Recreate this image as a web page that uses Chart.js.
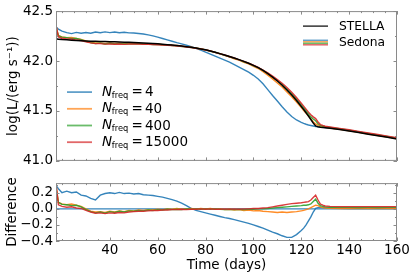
<!DOCTYPE html>
<html><head><meta charset="utf-8">
<script src="https://cdn.jsdelivr.net/npm/chart.js@4.4.1/dist/chart.umd.min.js"></script>
<style>
html,body{margin:0;padding:0;background:#fff;}
#wrap{position:relative;width:415px;height:277px;overflow:hidden;}
#c1{position:absolute;left:0;top:0;}
#c2{position:absolute;left:0;top:172px;}
</style></head><body>
<div id="wrap"><canvas id="c1" width="415" height="172"></canvas><canvas id="c2" width="415" height="105"></canvas></div>
<script>
// ---------------- data ----------------
const days = [17.5, 18.5, 20, 22, 24, 26, 28, 30, 32, 34,
  36, 38, 40, 42, 44, 46, 48, 50, 52, 54,
  56, 58, 60, 62, 64, 66, 68, 70, 72, 74,
  76, 78, 80, 82, 84, 86, 88, 90, 92, 94,
  96, 98, 100, 102, 104, 106, 108, 110, 112, 114,
  116, 118, 120, 121, 122, 123, 124, 125, 126, 127,
  128, 129, 130, 132, 136, 140, 144, 148, 152, 156,
  160];

const stella = [42.222, 42.219, 42.215, 42.212, 42.209, 42.206, 42.203, 42.201, 42.199, 42.198,
  42.196, 42.195, 42.193, 42.192, 42.190, 42.189, 42.187, 42.186, 42.184, 42.181,
  42.178, 42.175, 42.172, 42.168, 42.164, 42.160, 42.155, 42.150, 42.144, 42.137,
  42.130, 42.121, 42.112, 42.100, 42.088, 42.074, 42.060, 42.045, 42.030, 42.014,
  41.997, 41.978, 41.957, 41.934, 41.906, 41.874, 41.838, 41.800, 41.757, 41.710,
  41.659, 41.604, 41.545, 41.514, 41.482, 41.449, 41.415, 41.380, 41.350, 41.342,
  41.338, 41.335, 41.332, 41.327, 41.314, 41.300, 41.284, 41.268, 41.252, 41.236,
  41.220];

const sedona4 = [42.340, 42.320, 42.300, 42.285, 42.275, 42.287, 42.279, 42.286, 42.278, 42.291,
  42.283, 42.292, 42.285, 42.291, 42.284, 42.288, 42.282, 42.281, 42.276, 42.271,
  42.262, 42.252, 42.240, 42.226, 42.212, 42.198, 42.184, 42.172, 42.158, 42.143,
  42.127, 42.110, 42.090, 42.070, 42.050, 42.030, 42.010, 41.990, 41.965, 41.940,
  41.915, 41.888, 41.857, 41.820, 41.772, 41.714, 41.655, 41.600, 41.542, 41.490,
  41.445, 41.410, 41.386, 41.376, 41.367, 41.360, 41.355, 41.350, 41.345, 41.342,
  41.340, 41.338, 41.335, 41.330, 41.318, 41.304, 41.289, 41.273, 41.257, 41.241,
  41.225];

const sedona40 = [42.352, 42.254, 42.241, 42.234, 42.235, 42.226, 42.216, 42.201, 42.186, 42.181,
  42.181, 42.175, 42.180, 42.175, 42.179, 42.174, 42.178, 42.175, 42.177, 42.172,
  42.174, 42.168, 42.170, 42.164, 42.164, 42.158, 42.157, 42.148, 42.144, 42.139,
  42.128, 42.123, 42.112, 42.102, 42.086, 42.074, 42.056, 42.043, 42.023, 42.010,
  41.988, 41.971, 41.946, 41.925, 41.893, 41.859, 41.821, 41.780, 41.740, 41.690,
  41.642, 41.589, 41.534, 41.505, 41.478, 41.449, 41.422, 41.393, 41.370, 41.359,
  41.349, 41.342, 41.336, 41.330, 41.316, 41.302, 41.286, 41.270, 41.254, 41.238,
  41.222];

const sedona400 = [42.331, 42.254, 42.239, 42.234, 42.226, 42.226, 42.214, 42.197, 42.184, 42.176,
  42.179, 42.171, 42.178, 42.172, 42.177, 42.172, 42.176, 42.173, 42.175, 42.170,
  42.171, 42.166, 42.168, 42.161, 42.162, 42.156, 42.153, 42.146, 42.144, 42.135,
  42.130, 42.119, 42.112, 42.098, 42.088, 42.072, 42.056, 42.043, 42.026, 42.012,
  41.993, 41.976, 41.955, 41.934, 41.906, 41.876, 41.842, 41.807, 41.766, 41.721,
  41.672, 41.619, 41.562, 41.534, 41.502, 41.471, 41.441, 41.419, 41.402, 41.372,
  41.355, 41.348, 41.343, 41.336, 41.322, 41.308, 41.291, 41.276, 41.259, 41.244,
  41.228];

const sedona15000 = [42.357, 42.241, 42.228, 42.221, 42.220, 42.210, 42.205, 42.192, 42.182, 42.174,
  42.174, 42.169, 42.171, 42.168, 42.170, 42.167, 42.170, 42.171, 42.171, 42.168,
  42.167, 42.166, 42.163, 42.161, 42.157, 42.156, 42.151, 42.148, 42.140, 42.135,
  42.128, 42.121, 42.110, 42.100, 42.086, 42.072, 42.060, 42.043, 42.030, 42.012,
  41.997, 41.978, 41.959, 41.936, 41.910, 41.881, 41.849, 41.815, 41.777, 41.734,
  41.687, 41.634, 41.578, 41.549, 41.519, 41.488, 41.463, 41.441, 41.424, 41.390,
  41.364, 41.355, 41.347, 41.340, 41.326, 41.312, 41.296, 41.280, 41.264, 41.248,
  41.232];

const diff4 = [0.29, 0.25, 0.20, 0.22, 0.20, 0.21, 0.17, 0.16, 0.13, 0.11,
  0.17, 0.19, 0.20, 0.19, 0.205, 0.19, 0.195, 0.185, 0.19, 0.175,
  0.17, 0.165, 0.155, 0.145, 0.13, 0.115, 0.095, 0.07, 0.04, 0.005,
  -0.02, -0.035, -0.05, -0.065, -0.08, -0.095, -0.11, -0.12, -0.135, -0.15,
  -0.165, -0.18, -0.20, -0.22, -0.24, -0.265, -0.29, -0.31, -0.335, -0.355,
  -0.355, -0.32, -0.27, -0.24, -0.20, -0.15, -0.10, -0.04, 0.005, 0.015,
  0.018, 0.015, 0.012, 0.01, 0.006, 0.005, 0.005, 0.004, 0.004, 0.004,
  0.004];

const diff40 = [0.30, 0.08, 0.06, 0.05, 0.06, 0.045, 0.03, 0.0, -0.03, -0.04,
  -0.035, -0.045, -0.03, -0.04, -0.025, -0.035, -0.02, -0.025, -0.015, -0.02,
  -0.01, -0.015, -0.005, -0.01, 0.0, -0.005, 0.005, -0.005, 0.0, 0.005,
  -0.005, 0.005, 0.0, 0.005, -0.005, 0.0, -0.01, -0.005, -0.015, -0.01,
  -0.02, -0.015, -0.025, -0.02, -0.03, -0.035, -0.04, -0.045, -0.04, -0.045,
  -0.04, -0.035, -0.025, -0.02, -0.01, 0.0, 0.015, 0.03, 0.045, 0.04,
  0.025, 0.015, 0.01, 0.006, 0.005, 0.005, 0.004, 0.005, 0.004, 0.005,
  0.004];

const diff400 = [0.25, 0.08, 0.055, 0.05, 0.04, 0.045, 0.025, -0.01, -0.035, -0.05,
  -0.04, -0.055, -0.035, -0.045, -0.03, -0.04, -0.025, -0.03, -0.02, -0.025,
  -0.015, -0.02, -0.01, -0.015, -0.005, -0.01, -0.005, -0.01, 0.0, -0.005,
  0.0, -0.005, 0.0, -0.005, 0.0, -0.005, -0.01, -0.005, -0.01, -0.005,
  -0.01, -0.005, -0.005, 0.0, 0.0, 0.005, 0.01, 0.015, 0.02, 0.025,
  0.03, 0.035, 0.04, 0.045, 0.045, 0.05, 0.06, 0.09, 0.12, 0.07,
  0.04, 0.03, 0.025, 0.02, 0.018, 0.018, 0.017, 0.018, 0.017, 0.018,
  0.018];

const diff15000 = [0.31, 0.05, 0.03, 0.02, 0.025, 0.01, 0.005, -0.02, -0.04, -0.055,
  -0.05, -0.06, -0.05, -0.055, -0.045, -0.05, -0.04, -0.035, -0.03, -0.03,
  -0.025, -0.02, -0.02, -0.015, -0.015, -0.01, -0.01, -0.005, -0.01, -0.005,
  -0.005, 0.0, -0.005, 0.0, -0.005, -0.005, 0.0, -0.005, 0.0, -0.005,
  0.0, 0.0, 0.005, 0.005, 0.01, 0.015, 0.025, 0.035, 0.045, 0.055,
  0.065, 0.07, 0.075, 0.08, 0.085, 0.09, 0.11, 0.14, 0.17, 0.11,
  0.06, 0.045, 0.035, 0.03, 0.028, 0.027, 0.028, 0.027, 0.028, 0.027,
  0.028];

const zeroDays = [17.5, 160];
const zeroVals = [0, 0];

const nfreqLabels = ['4', '40', '400', '15000'];
const xTicks = [40, 60, 80, 100, 120, 140, 160];
const yTicksTop = [41.0, 41.5, 42.0, 42.5];
const yTicksBottom = [-0.4, -0.2, 0.0, 0.2];

// ---------------- styles ----------------
const FONT = '"DejaVu Sans", "Liberation Sans", sans-serif';
const lineCols = ['rgba(31,119,180,0.9)', 'rgba(255,127,14,0.9)', 'rgba(44,160,44,0.9)', 'rgba(214,39,40,0.9)'];
const paleCols = ['rgba(31,119,180,0.7)', 'rgba(255,127,14,0.7)', 'rgba(44,160,44,0.7)', 'rgba(214,39,40,0.7)'];
const FRAME = '#8a8a8a';

const pts = (xs, ys) => xs.map((d, i) => ({x: d, y: ys[i]}));
const fmt = v => (v < 0 ? '\u2212' + Math.abs(v).toFixed(1) : v.toFixed(1));

const framePlugin = {
  id: 'frame',
  afterDraw(chart, args, o) {
    const {ctx, chartArea: a, scales: {x, y}} = chart;
    ctx.save();
    ctx.strokeStyle = FRAME; ctx.lineWidth = 1;
    ctx.beginPath();
    const vx = (v, len) => {
      const p = Math.round(x.getPixelForValue(v)) + 0.5;
      ctx.moveTo(p, a.top); ctx.lineTo(p, a.top + len);
      ctx.moveTo(p, a.bottom); ctx.lineTo(p, a.bottom - len);
    };
    const vy = (v, len) => {
      const p = Math.round(y.getPixelForValue(v)) + 0.5;
      ctx.moveTo(a.left, p); ctx.lineTo(a.left + len, p);
      ctx.moveTo(a.right, p); ctx.lineTo(a.right - len, p);
    };
    for (let v = Math.ceil(x.min / o.xMinor) * o.xMinor; v <= x.max + 1e-9; v += o.xMinor) vx(v, 2);
    xTicks.forEach(v => vx(v, 3.5));
    for (let k = Math.ceil(y.min / o.yMinor - 1e-9); k * o.yMinor <= y.max + 1e-9; k++) vy(k * o.yMinor, 2);
    o.yMajor.forEach(v => vy(v, 3.5));
    ctx.stroke();
    ctx.strokeRect(a.left + 0.5, a.top + 0.5, a.right - a.left - 1, a.bottom - a.top - 1);
    ctx.restore();
  }
};

const legendPlugin = {
  id: 'customLegend',
  afterDraw(chart) {
    const {ctx, chartArea: a} = chart;
    ctx.save();
    ctx.textBaseline = 'middle'; ctx.textAlign = 'left'; ctx.fillStyle = '#000';
    const seg = (x0, x1, y, col, w) => { ctx.beginPath(); ctx.strokeStyle = col; ctx.lineWidth = w; ctx.moveTo(x0, y); ctx.lineTo(x1, y); ctx.stroke(); };
    // STELLA / Sedona
    const lx0 = a.right - 94, lx1 = a.right - 69, tx = a.right - 58;
    seg(lx0, lx1, a.top + 15, '#000', 1.2);
    ctx.font = '12.3px ' + FONT;
    ctx.fillText('STELLA', tx, a.top + 15.5);
    paleCols.forEach((c, i) => seg(lx0, lx1, a.top + 29.2 + i * 1.5, c, 1.5));
    ctx.fillText('Sedona', tx, a.top + 31.5);
    // N_freq legend
    nfreqLabels.forEach((lab, i) => {
      const y = a.top + 81 + i * 16.7;
      seg(a.left + 11, a.left + 36, y, paleCols[i], 1.8);
      let x = a.left + 46;
      ctx.font = 'italic 13.5px ' + FONT; ctx.fillText('N', x, y); x += ctx.measureText('N').width - 0.3;
      ctx.font = '8.3px ' + FONT; ctx.fillText('freq', x, y + 3.5); x += ctx.measureText('freq').width + 3.2;
      ctx.font = '13.5px ' + FONT; ctx.fillText('=', x, y + 0.5); x += ctx.measureText('=').width + 2.2;
      ctx.fillText(lab, x, y + 0.5);
    });
    ctx.restore();
  }
};

const lineDs = (data, col, w) => ({data, borderColor: col, borderWidth: w, pointRadius: 0, fill: false, tension: 0});

const tickFont = {family: FONT, size: 13.5};

// ---------------- top panel ----------------
new Chart(document.getElementById('c1'), {
  type: 'line',
  data: {datasets: [
    lineDs(pts(days, stella), '#000', 1.5),
    lineDs(pts(days, sedona15000), lineCols[3], 1.4),
    lineDs(pts(days, sedona400), lineCols[2], 1.4),
    lineDs(pts(days, sedona40), lineCols[1], 1.4),
    lineDs(pts(days, sedona4), lineCols[0], 1.4)
  ]},
  options: {
    responsive: false, animation: false, devicePixelRatio: 1,
    layout: {padding: {left: 0, right: 18, top: 10, bottom: 10}},
    plugins: {legend: {display: false}, tooltip: {enabled: false},
      frame: {xMinor: 5, yMinor: 0.25, yMajor: yTicksTop}},
    scales: {
      x: {type: 'linear', display: false, min: 17.5, max: 160},
      y: {type: 'linear', min: 41, max: 42.5,
        afterBuildTicks: s => { s.ticks = yTicksTop.map(v => ({value: v})); },
        afterFit: s => { s.width = 56; },
        grid: {display: false, drawTicks: false}, border: {display: false},
        ticks: {font: tickFont, color: '#000', padding: 3, callback: v => fmt(v)},
        title: {display: true, text: 'log(L/(erg s\u207B\u00B9))', font: {family: FONT, size: 13.5}, color: '#000', padding: {top: 5, bottom: 0}}
      }
    }
  },
  plugins: [framePlugin, legendPlugin]
});

// ---------------- bottom panel ----------------
new Chart(document.getElementById('c2'), {
  type: 'line',
  data: {datasets: [
    lineDs(pts(days, diff15000), lineCols[3], 1.4),
    lineDs(pts(days, diff400), lineCols[2], 1.4),
    lineDs(pts(days, diff40), lineCols[1], 1.4),
    lineDs(pts(days, diff4), lineCols[0], 1.4),
    lineDs(pts(zeroDays, zeroVals), lineCols[0], 1.2)
  ]},
  options: {
    responsive: false, animation: false, devicePixelRatio: 1,
    layout: {padding: {left: 0, right: 18, top: 8, bottom: 0}},
    plugins: {legend: {display: false}, tooltip: {enabled: false},
      frame: {xMinor: 5, yMinor: 0.1, yMajor: yTicksBottom}},
    scales: {
      x: {type: 'linear', min: 17.5, max: 160,
        afterBuildTicks: s => { s.ticks = xTicks.map(v => ({value: v})); },
        afterFit: s => { s.height = 36; },
        grid: {display: false, drawTicks: false}, border: {display: false},
        ticks: {font: tickFont, color: '#000', padding: 1, maxRotation: 0, autoSkip: false, callback: v => String(v)},
        title: {display: true, text: 'Time (days)', font: {family: FONT, size: 13.5}, color: '#000', padding: {top: 0, bottom: 3}}
      },
      y: {type: 'linear', min: -0.4, max: 0.32,
        afterBuildTicks: s => { s.ticks = yTicksBottom.map(v => ({value: v})); },
        afterFit: s => { s.width = 56; },
        grid: {display: false, drawTicks: false}, border: {display: false},
        ticks: {font: tickFont, color: '#000', padding: 3, callback: v => fmt(v)},
        title: {display: true, text: 'Difference', font: {family: FONT, size: 13.5}, color: '#000', padding: {top: 4, bottom: 0}}
      }
    }
  },
  plugins: [framePlugin]
});
</script></body></html>
